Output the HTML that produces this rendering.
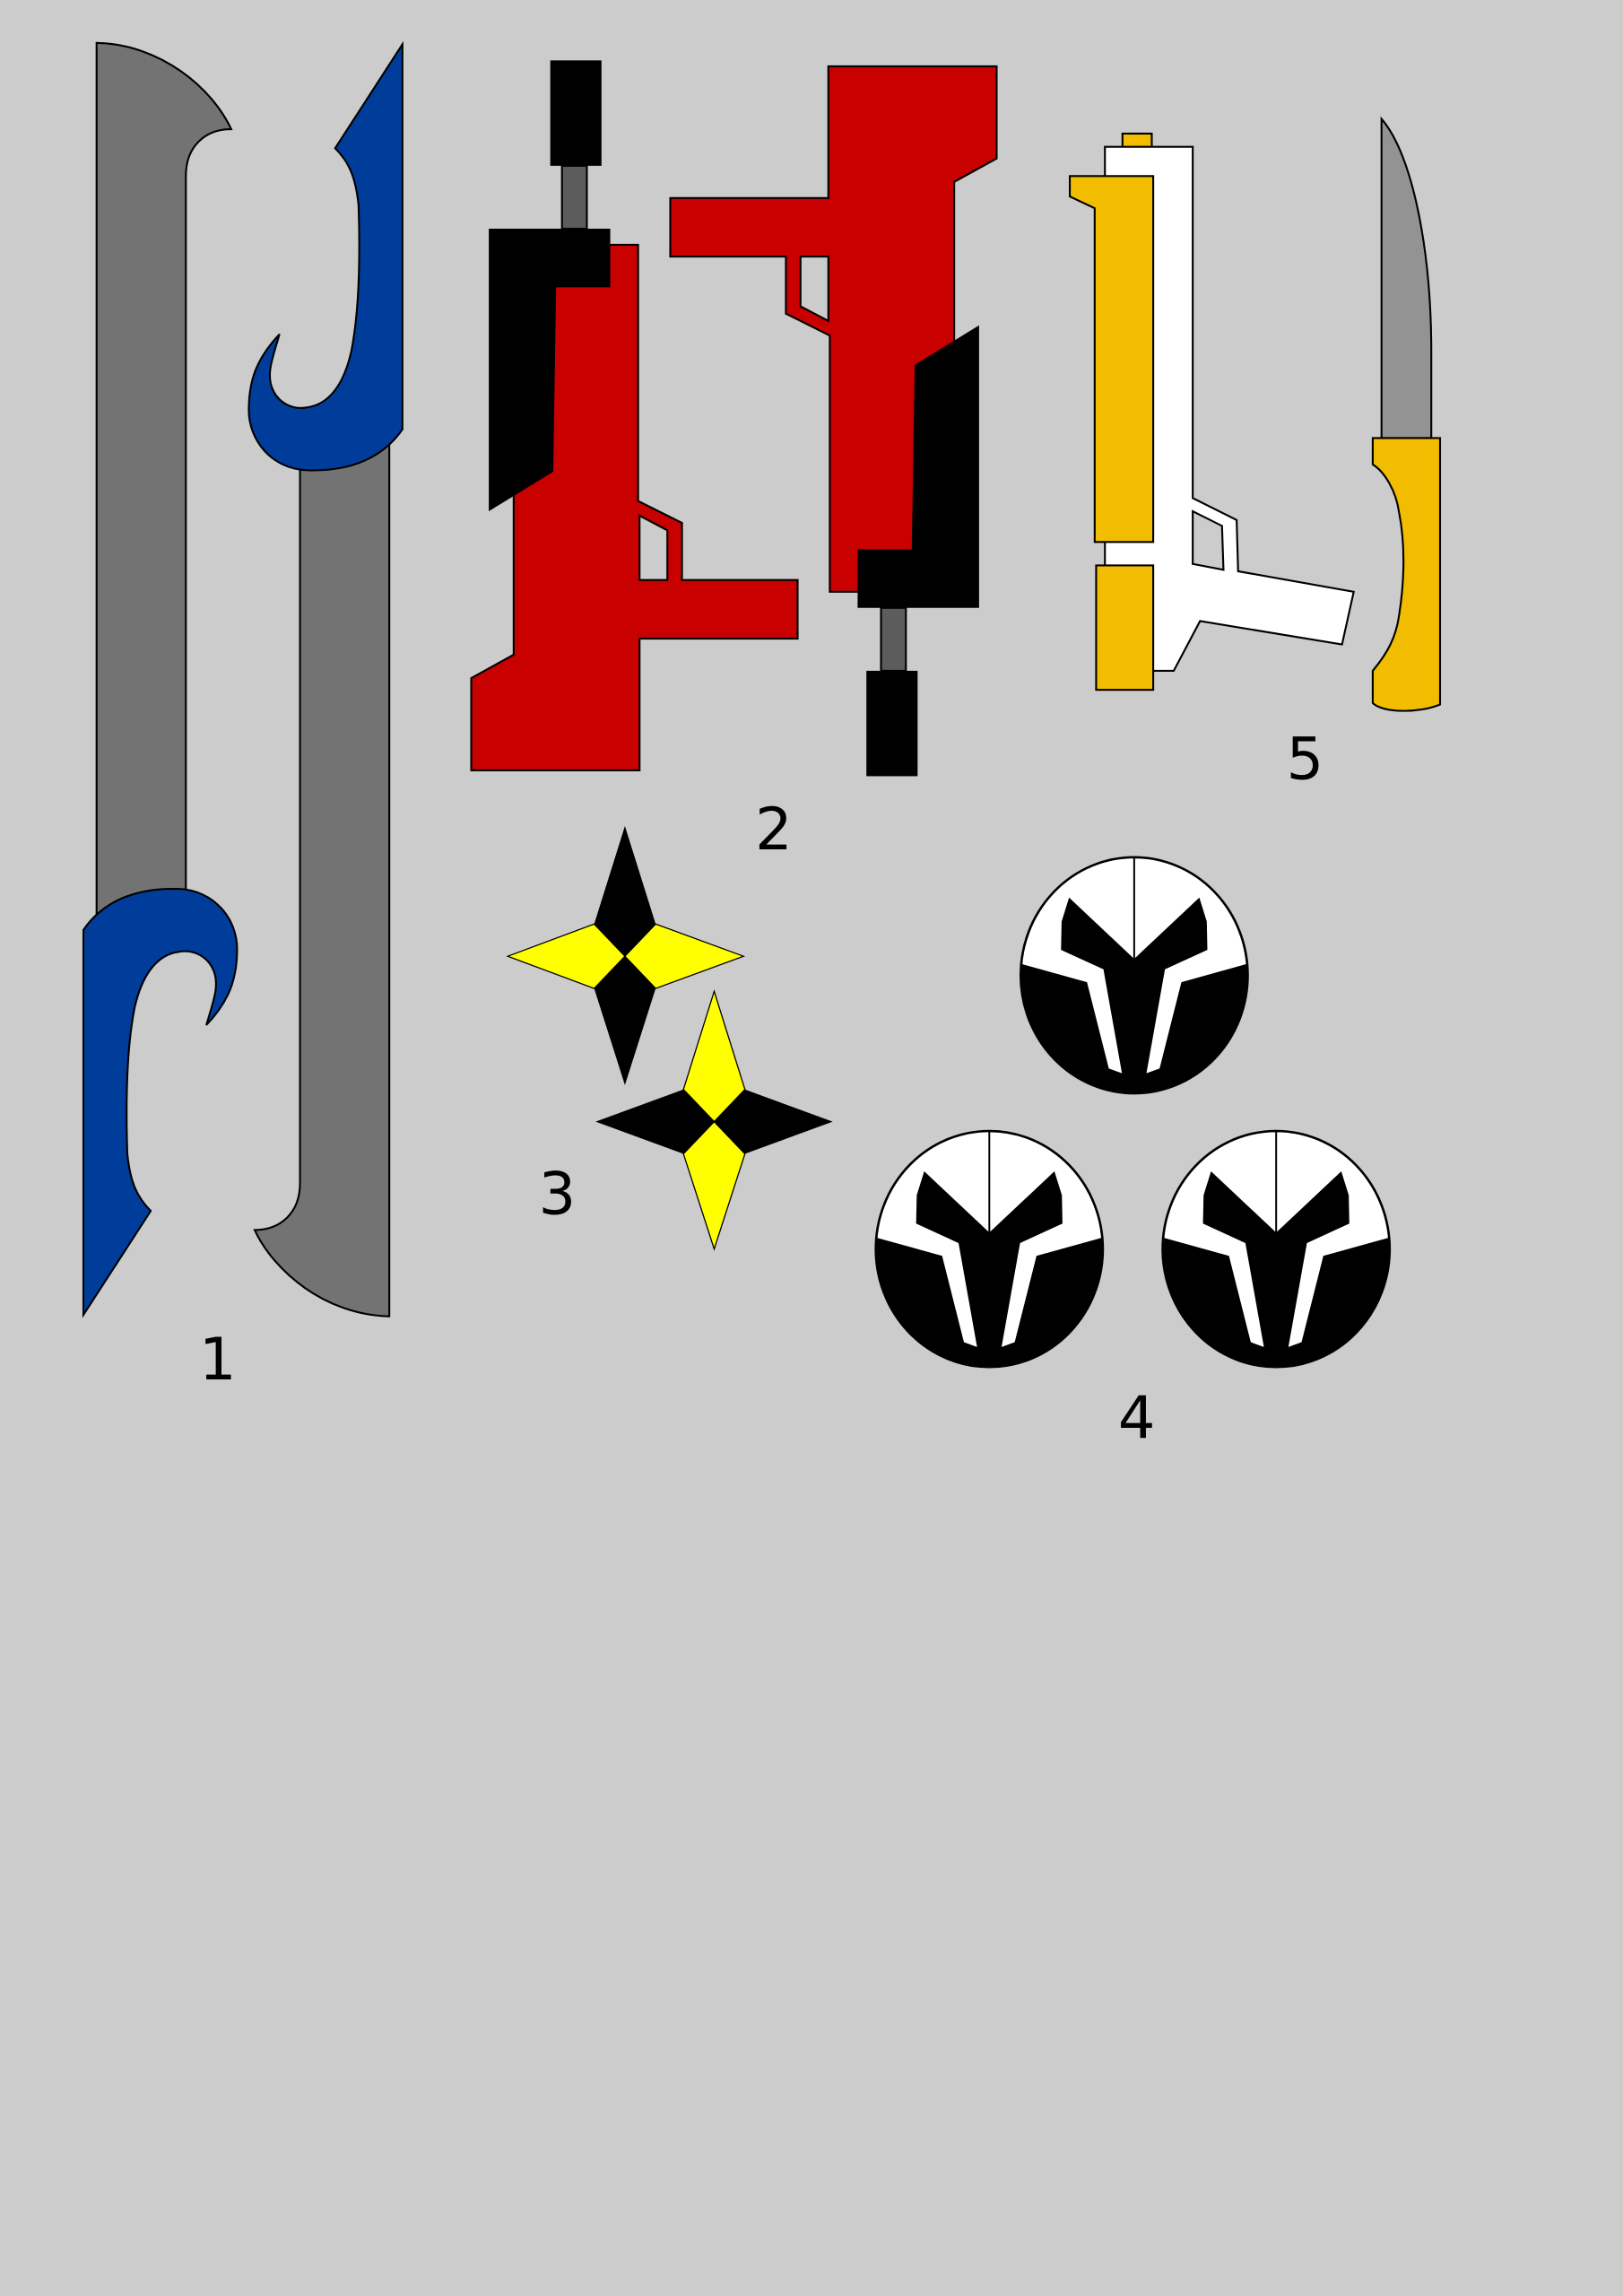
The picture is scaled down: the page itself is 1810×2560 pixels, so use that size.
<!DOCTYPE html>
<html><head><meta charset="utf-8"><style>
html,body{margin:0;padding:0;background:#cccccc;}
svg{display:block;}
text{font-family:"DejaVu Sans","Liberation Sans",sans-serif;font-size:40px;fill:#000;}
</style></head><body>
<svg width="1810" height="2560" viewBox="0 0 1109 1568" xmlns="http://www.w3.org/2000/svg">
<defs>
<g id="greyblade">
<path d="M66,29 L66,645 L127,645 L127,120 C127,100 140,88 158,88 C145,60 110,30 66,29 Z" fill="#737373" stroke="#000" stroke-width="1.3"/>
</g>
<g id="bluehook">
<path d="M275,30 L275,293 C262,312 240,322 210,321 C185,320 170,300 170,280 C170,260 175,245 191,228 C186,245 182,255 186,265 C190,275 200,280 210,278 C225,276 235,262 240,240 C246,210 246,170 245,140 C243,120 238,110 229,101 Z" fill="#003d9a" stroke="#000" stroke-width="1.3"/>
</g>
<g id="gun">
<path d="M351,167 L436,167 L436,342 L466,357 L466,396 L545,396 L545,436 L437,436 L437,526 L322,526 L322,463 L351,447 Z" fill="#c80000" stroke="#000" stroke-width="1.3"/>
<path d="M437,352 L456,362 L456,396 L437,396 Z" fill="#cccccc" stroke="#000" stroke-width="1.3"/>
<rect x="384" y="113" width="17" height="43" fill="#5c5c5c" stroke="#000" stroke-width="1.3"/>
<rect x="376" y="41" width="35" height="72" fill="#000"/>
<path d="M334,156 L417,156 L417,196 L380,196 L378,322 L334,349 Z" fill="#000"/>
</g>
<clipPath id="ec"><ellipse cx="403" cy="440" rx="380" ry="395"/></clipPath>
<g id="emb">
<g clip-path="url(#ec)">
<rect x="0" y="0" width="810" height="900" fill="#fff"/>
<path d="M0,395 L245,463 L561,463 L806,395 L806,900 L0,900 Z" fill="#000"/>
<path d="M185,180 L160,260 L158,355 L300,420 L403,385 Z M621,180 L646,260 L648,355 L506,420 L403,385 Z M300,420 L403,385 L506,420 L506,480 L300,480 Z" fill="#000"/>
<path d="M245,463 L318,752 L362,768 L300,420 Z M561,463 L488,752 L444,768 L506,420 Z" fill="#fff"/>
<line x1="403" y1="40" x2="403" y2="385" stroke="#000" stroke-width="6"/>
</g>
<ellipse cx="403" cy="440" rx="380" ry="395" fill="none" stroke="#000" stroke-width="8"/>
</g>
</defs>
<rect width="1109" height="1568" fill="#cccccc"/>
<!-- 1 -->
<use href="#greyblade"/>
<use href="#greyblade" transform="rotate(180 166 464)"/>
<use href="#bluehook"/>
<use href="#bluehook" transform="rotate(180 166 464)"/>
<!-- 2 -->
<use href="#gun"/>
<use href="#gun" transform="rotate(180 501.5 285.5)"/>
<!-- 5 -->
<rect x="767" y="91" width="20" height="10" fill="#f2bd00" stroke="#000" stroke-width="1.3"/>
<path d="M755,100 L815,100 L815,340 L845,355 L846,390 L925,404 L917,440 L820,424 L802,458 L755,458 Z" fill="#fff" stroke="#000" stroke-width="1.3"/>
<path d="M815,349 L835,359 L836,389 L815,385 Z" fill="#cccccc" stroke="#000" stroke-width="1.3"/>
<path d="M731,120 L788,120 L788,370 L748,370 L748,142 L731,134 Z" fill="#f2bd00" stroke="#000" stroke-width="1.3"/>
<rect x="749" y="386" width="39" height="85" fill="#f2bd00" stroke="#000" stroke-width="1.3"/>
<path d="M944,81 C965,105 978,170 978,240 L978,299 L944,299 Z" fill="#939393" stroke="#000" stroke-width="1.3"/>
<path d="M938,299 L984,299 L984,481 C970,487 945,487 938,480 L938,458 C948,446 954,435 956,420 C960,395 960,370 956,350 C954,335 946,322 938,317 Z" fill="#f2bd00" stroke="#000" stroke-width="1.3"/>
<!-- 3 -->
<path d="M427,564 L406,631 L427,653 L448,631 Z M427,741 L406,675 L427,653 L448,675 Z" fill="#000"/>
<path d="M347,653 L406,631 L427,653 L406,675 Z M508,653 L448,631 L427,653 L448,675 Z" fill="#ffff00" stroke="#000" stroke-width="0.8"/>
<path d="M488,677 L467,744 L488,766 L509,744 Z M488,853 L467,788 L488,766 L509,788 Z" fill="#ffff00" stroke="#000" stroke-width="0.8"/>
<path d="M407,766 L467,744 L488,766 L467,788 Z M569,766 L509,744 L488,766 L509,788 Z" fill="#000"/>
<!-- 4 -->
<use href="#emb" transform="translate(775,666) scale(0.2041) translate(-403,-440)"/>
<use href="#emb" transform="translate(676,853) scale(0.2041) translate(-403,-440)"/>
<use href="#emb" transform="translate(872,853) scale(0.2041) translate(-403,-440)"/>
<!-- labels -->
<text x="136" y="942">1</text>
<text x="516" y="580">2</text>
<text x="368" y="829">3</text>
<text x="764" y="982">4</text>
<text x="879" y="532">5</text>
</svg>
</body></html>
